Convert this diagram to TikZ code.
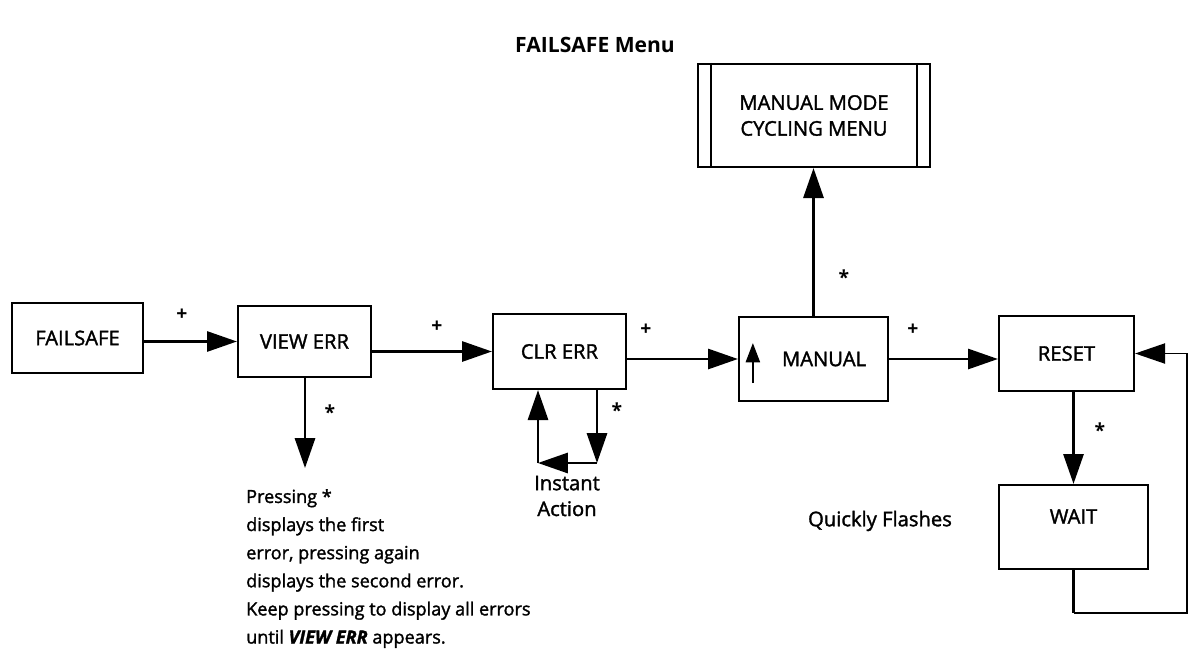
\documentclass[tikz,border=0pt]{standalone}
\usepackage{fontspec}
\setmainfont{Open Sans}
\newfontfamily\medfont{Open Sans}[FakeBold=1.6, BoldFont={Open Sans Bold}]
\usepackage{tikz}
\usetikzlibrary{arrows.meta,positioning,calc}

\begin{document}
\begin{tikzpicture}[
    x=0.02cm, y=-0.02cm,
    >={Triangle[length=17pt,width=11.5pt]},
    menubox/.style={draw, line width=1.3pt, align=center, font=\medfont\fontsize{11.5}{14.7}\selectfont},
    link/.style={->, line width=1.3pt},
    keylabel/.style={font=\fontsize{11}{12}\selectfont\bfseries},
    note/.style={align=left, font=\medfont\fontsize{10.3}{16}\selectfont}
]
\useasboundingbox (0,0) rectangle (1190,666);

\node[font=\fontsize{12}{14}\selectfont\bfseries] (title) at (595,45) {FAILSAFE Menu};

\node[menubox, minimum width=2.62cm, minimum height=1.40cm] (fs) at (77.5,338) {FAILSAFE};
\node[menubox, minimum width=2.66cm, minimum height=1.42cm] (view) at (304.5,341.5) {VIEW ERR};
\node[menubox, minimum width=2.66cm, minimum height=1.50cm] (clr) at (559.5,351.5) {CLR ERR};
\node[menubox, minimum width=2.98cm, minimum height=1.68cm] (man) at (813.5,359) {\hspace{12pt}MANUAL};
\node[menubox, minimum width=4.64cm, minimum height=2.06cm] (mmc) at (814,115.5) {MANUAL MODE\\CYCLING MENU};
\node[menubox, minimum width=2.70cm, minimum height=1.50cm] (reset) at (1066.5,353.5) {RESET};
\node[menubox, minimum width=2.98cm, minimum height=1.68cm, text depth=12pt] (wait) at (1073.5,527) {WAIT};

% double side lines of the sub menu box
\draw[line width=1.3pt] ($(mmc.north west)+(14,0)$) -- ($(mmc.south west)+(14,0)$);
\draw[line width=1.3pt] ($(mmc.north east)+(-14,0)$) -- ($(mmc.south east)+(-14,0)$);

% marker inside MANUAL
\coordinate (mlo) at ($(man.west)+(15,24)$);
\coordinate (mhi) at ($(man.west)+(15,-16)$);
\draw[-{Triangle[length=11pt,width=8pt]}, line width=1.3pt] (mlo) -- (mhi);

% main row
\draw[link] (fs.east |- view.west) -- (view.west);
\draw[link] (view.east |- clr.west) -- (clr.west);
\draw[link] (clr.east |- man.west) -- (man.west);
\draw[link] (man.east) -- (man.east -| reset.west);

\node[keylabel] (p1) at (182,315) {+};
\node[keylabel] (p2) at (437,327) {+};
\node[keylabel] (p3) at (646,330) {+};
\node[keylabel] (p4) at (913,330) {+};

% VIEW ERR down
\coordinate (vtip) at (305,468);
\draw[link] (view.south -| vtip) -- (vtip);
\node[keylabel] (s1) at (330,412) {*};
\node[note, anchor=north west] (info) at (240,483) {Pressing *\\
displays the first\\
error, pressing again\\
displays the second error.\\
Keep pressing to display all errors\\
until \textbf{\textit{VIEW ERR}} appears.};

% CLR ERR loop
\coordinate (iar) at (597,463);
\coordinate (ial) at (538,463);
\draw[link] (clr.south -| iar) -- (iar);
\draw[link] (iar) -- (ial);
\draw[link] (ial) -- (clr.south -| ial);
\node[keylabel] (s2) at (617,410) {*};
\node[align=center, font=\medfont\fontsize{11.5}{14.7}\selectfont] (inst) at (567,496) {Instant\\Action};

% MANUAL up
\draw[link] (man.north) -- (man.north |- mmc.south);
\node[keylabel] (s3) at (844,277) {*};

% RESET / WAIT loop
\draw[link] (wait.north |- reset.south) -- (wait.north);
\node[keylabel] (s4) at (1100,430) {*};
\node[font=\medfont\fontsize{11.5}{14.7}\selectfont] (flash) at (880,521) {Quickly Flashes};
\coordinate (lb) at (1077,613);
\coordinate (rb) at (1187,613);
\draw[line width=1.3pt] (wait.south) -- (wait.south |- lb);
\draw[->, line width=0.7pt] (wait.south |- lb) -- (rb) |- (reset.east);
\end{tikzpicture}
\end{document}
